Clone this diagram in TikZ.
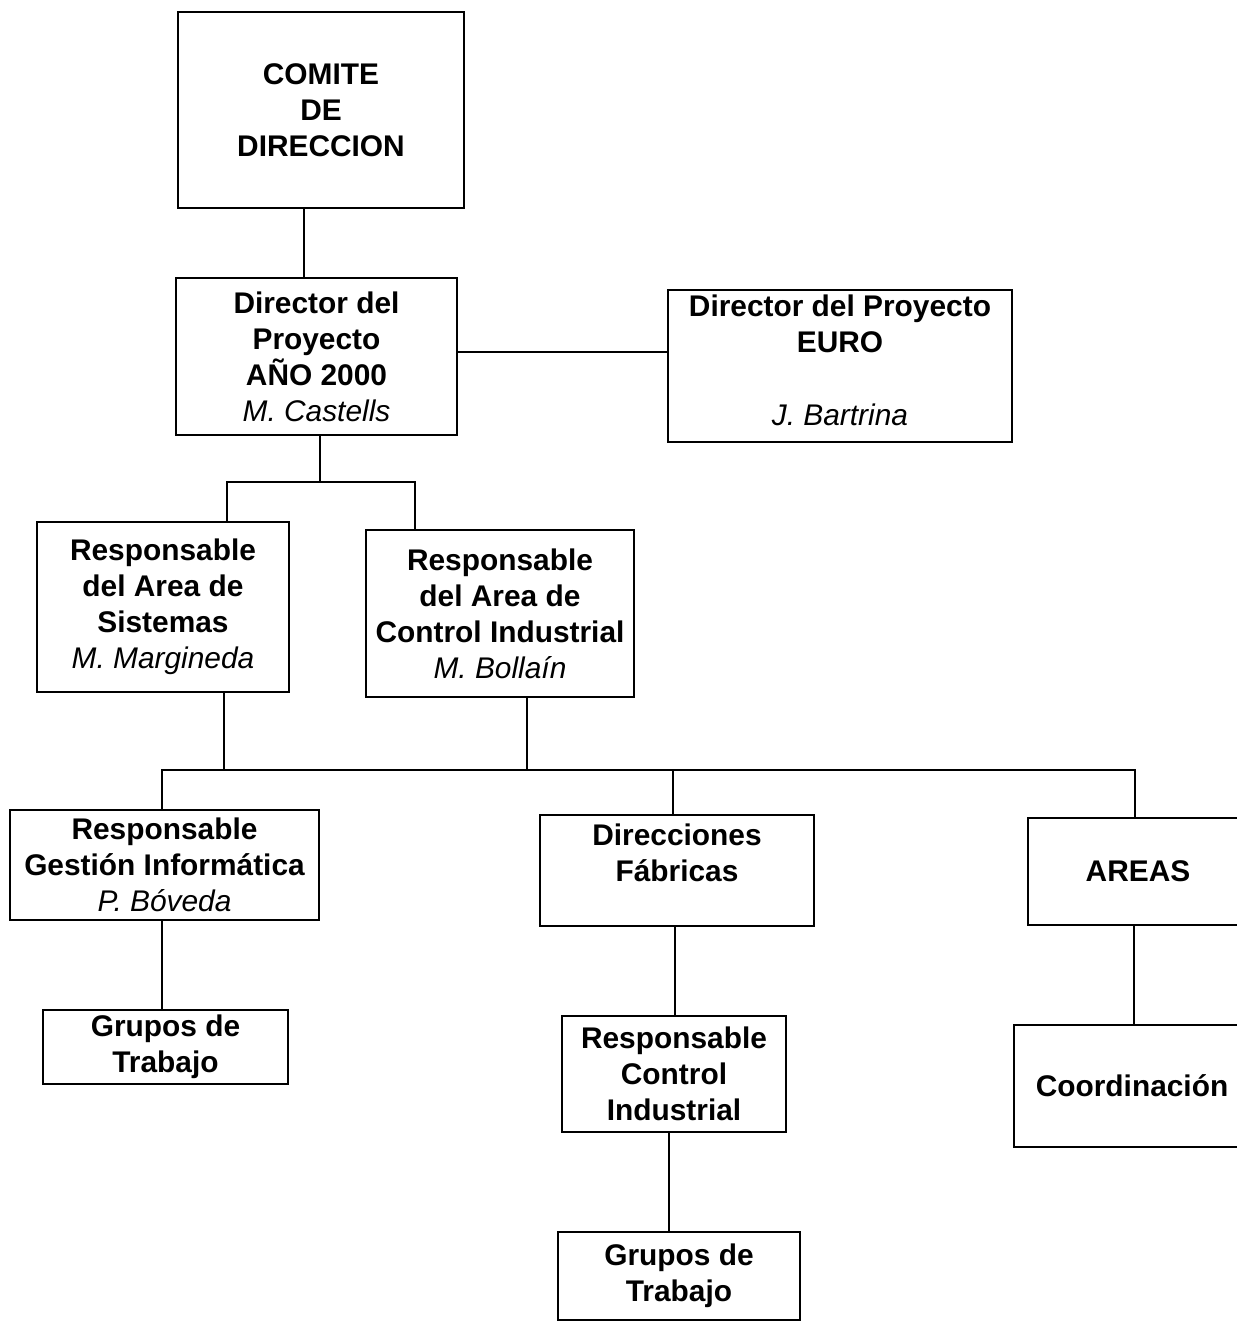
\documentclass[tikz,border=0pt]{standalone}
\usepackage{fontspec}
\setmainfont{Liberation Sans}
\usepackage{tikz}
\usetikzlibrary{positioning}
\newcommand{\persona}[1]{{\normalfont\fontsize{17}{20.5}\selectfont\itshape #1}}

\begin{document}
\begin{tikzpicture}[x=0.02cm,y=-0.02cm]
  \tikzstyle{box}=[rectangle,draw,line width=1.4pt,inner sep=0pt,align=center,
  		   font=\fontsize{17}{20.5}\selectfont\bfseries]
  \tikzstyle{link}=[line width=1.4pt]
  \useasboundingbox (0,0) rectangle (1237,1323);
  % niveles de direccion
  \node [box,minimum width=5.72cm,minimum height=3.92cm] (comite) at (321,110)
    {COMITE\\DE\\DIRECCION};
  \node [box,minimum width=5.62cm,minimum height=3.14cm] (aino) at (316.5,356.5)
    {Director del\\Proyecto\\AÑO 2000\\\persona{M. Castells}};
  \node [box,minimum width=6.88cm,minimum height=3.04cm] (euro) at (840,366)
    {Director del Proyecto\\EURO\\ \strut\\\persona{J. Bartrina}\\[-20pt] \strut};
  % responsables de area
  \node [box,minimum width=5.04cm,minimum height=3.40cm] (sist) at (163,607)
    {Responsable\\del Area de\\Sistemas\\\persona{M. Margineda}};
  \node [box,minimum width=5.36cm,minimum height=3.34cm] (ctrl) at (500,613.5)
    {Responsable\\del Area de\\Control Industrial\\\persona{M. Bollaín}};
  % tercer nivel
  \node [box,minimum width=6.18cm,minimum height=2.20cm] (gest) at (164.5,865)
    {Responsable\\Gestión Informática\\\persona{P. Bóveda}};
  \node [box,minimum width=5.48cm,minimum height=2.22cm] (dir) at (677,870.5)
    {Direcciones\\Fábricas\\[-6pt] \strut};
  \node [box,minimum width=4.40cm,minimum height=2.14cm] (areas) at (1138,871.5)
    {AREAS};
  \node [box,minimum width=4.90cm,minimum height=1.48cm] (grupos1) at (165.5,1047)
    {Grupos de\\Trabajo};
  \node [box,minimum width=4.48cm,minimum height=2.32cm] (rci) at (674,1074)
    {Responsable\\Control\\Industrial};
  \node [box,minimum width=4.84cm,minimum height=1.76cm] (grupos2) at (679,1276)
    {Grupos de\\Trabajo};
  \node [box,minimum width=4.72cm,minimum height=2.44cm] (coord) at (1132,1086)
    {Coordinación};
  % conexiones
  \coordinate (split1) at (320,482);
  \coordinate (busL) at (162,770);
  \coordinate (busR) at (1135,770);
  \draw [link] (comite.south -| 304,0) -- (aino.north -| 304,0);
  \draw [link] (aino.east |- 0,352) -- (euro.west |- 0,352);
  \draw [link] (aino.south -| split1) -- (split1);
  \draw [link] (sist.north -| 227,0) |- (split1) -| (ctrl.north -| 415,0);
  \draw [link] (sist.south -| 224,0) -- (busL -| 224,0);
  \draw [link] (ctrl.south -| 527,0) -- (busL -| 527,0);
  \draw [link] (gest.north -| busL) -- (busL) -- (busR) -- (areas.north -| busR);
  \draw [link] (busL -| 673,0) -- (dir.north -| 673,0);
  \draw [link] (gest.south -| busL) -- (grupos1.north -| busL);
  \draw [link] (dir.south -| 675,0) -- (rci.north -| 675,0);
  \draw [link] (rci.south -| 669,0) -- (grupos2.north -| 669,0);
  \draw [link] (areas.south -| 1134,0) -- (coord.north -| 1134,0);
\end{tikzpicture}
\end{document}
